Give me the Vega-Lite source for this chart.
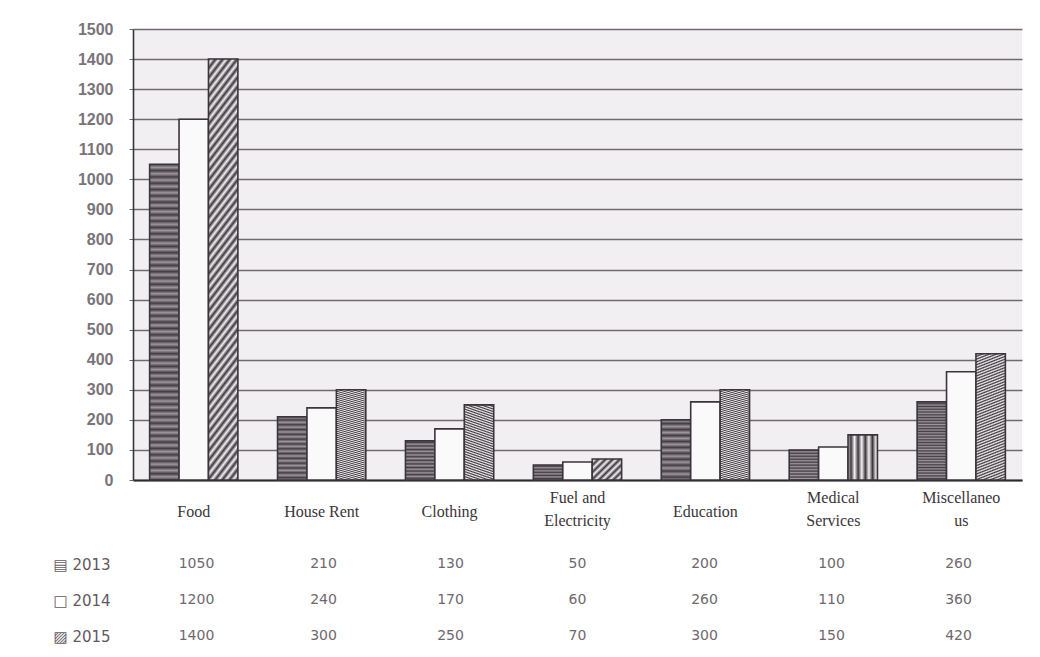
{
  "$schema": "https://vega.github.io/schema/vega-lite/v6.json",
  "background": "#ffffff",
  "padding": {"left": 10, "top": 21, "right": 18, "bottom": 2},
  "datasets": {
    "spend": [
      {"category": "Food", "year": "2013", "value": 1050},
      {"category": "Food", "year": "2014", "value": 1200},
      {"category": "Food", "year": "2015", "value": 1400},
      {"category": "House Rent", "year": "2013", "value": 210},
      {"category": "House Rent", "year": "2014", "value": 240},
      {"category": "House Rent", "year": "2015", "value": 300},
      {"category": "Clothing", "year": "2013", "value": 130},
      {"category": "Clothing", "year": "2014", "value": 170},
      {"category": "Clothing", "year": "2015", "value": 250},
      {"category": "Fuel and Electricity", "year": "2013", "value": 50},
      {"category": "Fuel and Electricity", "year": "2014", "value": 60},
      {"category": "Fuel and Electricity", "year": "2015", "value": 70},
      {"category": "Education", "year": "2013", "value": 200},
      {"category": "Education", "year": "2014", "value": 260},
      {"category": "Education", "year": "2015", "value": 300},
      {"category": "Medical Services", "year": "2013", "value": 100},
      {"category": "Medical Services", "year": "2014", "value": 110},
      {"category": "Medical Services", "year": "2015", "value": 150},
      {"category": "Miscellaneous", "year": "2013", "value": 260},
      {"category": "Miscellaneous", "year": "2014", "value": 360},
      {"category": "Miscellaneous", "year": "2015", "value": 420}
    ]
  },
  "spacing": 14,
  "vconcat": [
    {
      "width": 889,
      "height": 451,
      "data": {"name": "spend"},
      "view": {"fill": "#f2eff2", "stroke": null},
      "mark": {"type": "bar", "stroke": "#3a353a", "strokeWidth": 1.6},
      "encoding": {
        "x": {
          "field": "category",
          "type": "nominal",
          "sort": ["Food", "House Rent", "Clothing", "Fuel and Electricity", "Education", "Medical Services", "Miscellaneous"],
          "scale": {"paddingInner": 0.31, "paddingOuter": 0.13},
          "axis": {
            "title": null,
            "labelAngle": 0,
            "ticks": false,
            "domainColor": "#2f2a2f",
            "domainWidth": 2,
            "labelFont": "Liberation Serif",
            "labelFontSize": 16,
            "labelColor": "#3a353a",
            "labelPadding": {"condition": {"test": "datum.value == 'Fuel and Electricity' || datum.value == 'Medical Services' || datum.value == 'Miscellaneous'", "value": 17}, "value": 31},
            "labelBaseline": "middle",
            "labelLineHeight": 23,
            "labelLimit": 200,
            "minExtent": 52,
            "maxExtent": 52,
            "labelExpr": "datum.value == 'Fuel and Electricity' ? ['Fuel and', 'Electricity'] : datum.value == 'Medical Services' ? ['Medical', 'Services'] : datum.value == 'Miscellaneous' ? ['Miscellaneo', 'us'] : datum.value"
          }
        },
        "xOffset": {"field": "year", "type": "nominal", "sort": ["2013", "2014", "2015"], "scale": {"paddingInner": 0, "paddingOuter": 0}},
        "y": {
          "field": "value",
          "type": "quantitative",
          "scale": {"domain": [0, 1500], "nice": false},
          "axis": {
            "title": null,
            "format": "d",
            "values": [0, 100, 200, 300, 400, 500, 600, 700, 800, 900, 1000, 1100, 1200, 1300, 1400, 1500],
            "grid": true,
            "gridColor": "#6f6a6f",
            "gridWidth": 1.3,
            "gridOpacity": 1,
            "ticks": true,
            "tickSize": 4,
            "tickColor": "#6f6a6f",
            "domainColor": "#3a353a",
            "domainWidth": 1.6,
            "labelFont": "Liberation Sans",
            "labelFontWeight": "bold",
            "labelFontSize": 16,
            "labelColor": "#7a747a",
            "labelPadding": 16,
            "minExtent": 123,
            "maxExtent": 123
          }
        },
        "fill": {
          "condition": [
            {"test": "datum.year == '2013'", "value": {"gradient": "linear", "x1": 0, "y1": 0, "x2": 0, "y2": 1, "stops": [
              {"offset": 0, "color": "#433d43"}, {"offset": 0.01, "color": "#9d979d"}, {"offset": 0.02, "color": "#433d43"}, {"offset": 0.03, "color": "#9d979d"}, {"offset": 0.04, "color": "#433d43"}, {"offset": 0.05, "color": "#9d979d"}, {"offset": 0.06, "color": "#433d43"}, {"offset": 0.07, "color": "#9d979d"}, {"offset": 0.08, "color": "#433d43"}, {"offset": 0.09, "color": "#9d979d"},
              {"offset": 0.1, "color": "#433d43"}, {"offset": 0.11, "color": "#9d979d"}, {"offset": 0.12, "color": "#433d43"}, {"offset": 0.13, "color": "#9d979d"}, {"offset": 0.14, "color": "#433d43"}, {"offset": 0.15, "color": "#9d979d"}, {"offset": 0.16, "color": "#433d43"}, {"offset": 0.17, "color": "#9d979d"}, {"offset": 0.18, "color": "#433d43"}, {"offset": 0.19, "color": "#9d979d"},
              {"offset": 0.2, "color": "#433d43"}, {"offset": 0.21, "color": "#9d979d"}, {"offset": 0.22, "color": "#433d43"}, {"offset": 0.23, "color": "#9d979d"}, {"offset": 0.24, "color": "#433d43"}, {"offset": 0.25, "color": "#9d979d"}, {"offset": 0.26, "color": "#433d43"}, {"offset": 0.27, "color": "#9d979d"}, {"offset": 0.28, "color": "#433d43"}, {"offset": 0.29, "color": "#9d979d"},
              {"offset": 0.3, "color": "#433d43"}, {"offset": 0.31, "color": "#9d979d"}, {"offset": 0.32, "color": "#433d43"}, {"offset": 0.33, "color": "#9d979d"}, {"offset": 0.34, "color": "#433d43"}, {"offset": 0.35, "color": "#9d979d"}, {"offset": 0.36, "color": "#433d43"}, {"offset": 0.37, "color": "#9d979d"}, {"offset": 0.38, "color": "#433d43"}, {"offset": 0.39, "color": "#9d979d"},
              {"offset": 0.4, "color": "#433d43"}, {"offset": 0.41, "color": "#9d979d"}, {"offset": 0.42, "color": "#433d43"}, {"offset": 0.43, "color": "#9d979d"}, {"offset": 0.44, "color": "#433d43"}, {"offset": 0.45, "color": "#9d979d"}, {"offset": 0.46, "color": "#433d43"}, {"offset": 0.47, "color": "#9d979d"}, {"offset": 0.48, "color": "#433d43"}, {"offset": 0.49, "color": "#9d979d"},
              {"offset": 0.5, "color": "#433d43"}, {"offset": 0.51, "color": "#9d979d"}, {"offset": 0.52, "color": "#433d43"}, {"offset": 0.53, "color": "#9d979d"}, {"offset": 0.54, "color": "#433d43"}, {"offset": 0.55, "color": "#9d979d"}, {"offset": 0.56, "color": "#433d43"}, {"offset": 0.57, "color": "#9d979d"}, {"offset": 0.58, "color": "#433d43"}, {"offset": 0.59, "color": "#9d979d"},
              {"offset": 0.6, "color": "#433d43"}, {"offset": 0.61, "color": "#9d979d"}, {"offset": 0.62, "color": "#433d43"}, {"offset": 0.63, "color": "#9d979d"}, {"offset": 0.64, "color": "#433d43"}, {"offset": 0.65, "color": "#9d979d"}, {"offset": 0.66, "color": "#433d43"}, {"offset": 0.67, "color": "#9d979d"}, {"offset": 0.68, "color": "#433d43"}, {"offset": 0.69, "color": "#9d979d"},
              {"offset": 0.7, "color": "#433d43"}, {"offset": 0.71, "color": "#9d979d"}, {"offset": 0.72, "color": "#433d43"}, {"offset": 0.73, "color": "#9d979d"}, {"offset": 0.74, "color": "#433d43"}, {"offset": 0.75, "color": "#9d979d"}, {"offset": 0.76, "color": "#433d43"}, {"offset": 0.77, "color": "#9d979d"}, {"offset": 0.78, "color": "#433d43"}, {"offset": 0.79, "color": "#9d979d"},
              {"offset": 0.8, "color": "#433d43"}, {"offset": 0.81, "color": "#9d979d"}, {"offset": 0.82, "color": "#433d43"}, {"offset": 0.83, "color": "#9d979d"}, {"offset": 0.84, "color": "#433d43"}, {"offset": 0.85, "color": "#9d979d"}, {"offset": 0.86, "color": "#433d43"}, {"offset": 0.87, "color": "#9d979d"}, {"offset": 0.88, "color": "#433d43"}, {"offset": 0.89, "color": "#9d979d"},
              {"offset": 0.9, "color": "#433d43"}, {"offset": 0.91, "color": "#9d979d"}, {"offset": 0.92, "color": "#433d43"}, {"offset": 0.93, "color": "#9d979d"}, {"offset": 0.94, "color": "#433d43"}, {"offset": 0.95, "color": "#9d979d"}, {"offset": 0.96, "color": "#433d43"}, {"offset": 0.97, "color": "#9d979d"}, {"offset": 0.98, "color": "#433d43"}, {"offset": 0.99, "color": "#9d979d"},
              {"offset": 1, "color": "#433d43"}
            ]}},
            {"test": "datum.year == '2015'", "value": {"gradient": "linear", "x1": 0, "y1": 0, "x2": 0.1, "y2": 1.1, "stops": [
              {"offset": 0, "color": "#3c373c"}, {"offset": 0.01, "color": "#f4f2f4"}, {"offset": 0.02, "color": "#3c373c"}, {"offset": 0.03, "color": "#f4f2f4"}, {"offset": 0.04, "color": "#3c373c"}, {"offset": 0.05, "color": "#f4f2f4"}, {"offset": 0.06, "color": "#3c373c"}, {"offset": 0.07, "color": "#f4f2f4"}, {"offset": 0.08, "color": "#3c373c"}, {"offset": 0.09, "color": "#f4f2f4"},
              {"offset": 0.1, "color": "#3c373c"}, {"offset": 0.11, "color": "#f4f2f4"}, {"offset": 0.12, "color": "#3c373c"}, {"offset": 0.13, "color": "#f4f2f4"}, {"offset": 0.14, "color": "#3c373c"}, {"offset": 0.15, "color": "#f4f2f4"}, {"offset": 0.16, "color": "#3c373c"}, {"offset": 0.17, "color": "#f4f2f4"}, {"offset": 0.18, "color": "#3c373c"}, {"offset": 0.19, "color": "#f4f2f4"},
              {"offset": 0.2, "color": "#3c373c"}, {"offset": 0.21, "color": "#f4f2f4"}, {"offset": 0.22, "color": "#3c373c"}, {"offset": 0.23, "color": "#f4f2f4"}, {"offset": 0.24, "color": "#3c373c"}, {"offset": 0.25, "color": "#f4f2f4"}, {"offset": 0.26, "color": "#3c373c"}, {"offset": 0.27, "color": "#f4f2f4"}, {"offset": 0.28, "color": "#3c373c"}, {"offset": 0.29, "color": "#f4f2f4"},
              {"offset": 0.3, "color": "#3c373c"}, {"offset": 0.31, "color": "#f4f2f4"}, {"offset": 0.32, "color": "#3c373c"}, {"offset": 0.33, "color": "#f4f2f4"}, {"offset": 0.34, "color": "#3c373c"}, {"offset": 0.35, "color": "#f4f2f4"}, {"offset": 0.36, "color": "#3c373c"}, {"offset": 0.37, "color": "#f4f2f4"}, {"offset": 0.38, "color": "#3c373c"}, {"offset": 0.39, "color": "#f4f2f4"},
              {"offset": 0.4, "color": "#3c373c"}, {"offset": 0.41, "color": "#f4f2f4"}, {"offset": 0.42, "color": "#3c373c"}, {"offset": 0.43, "color": "#f4f2f4"}, {"offset": 0.44, "color": "#3c373c"}, {"offset": 0.45, "color": "#f4f2f4"}, {"offset": 0.46, "color": "#3c373c"}, {"offset": 0.47, "color": "#f4f2f4"}, {"offset": 0.48, "color": "#3c373c"}, {"offset": 0.49, "color": "#f4f2f4"},
              {"offset": 0.5, "color": "#3c373c"}, {"offset": 0.51, "color": "#f4f2f4"}, {"offset": 0.52, "color": "#3c373c"}, {"offset": 0.53, "color": "#f4f2f4"}, {"offset": 0.54, "color": "#3c373c"}, {"offset": 0.55, "color": "#f4f2f4"}, {"offset": 0.56, "color": "#3c373c"}, {"offset": 0.57, "color": "#f4f2f4"}, {"offset": 0.58, "color": "#3c373c"}, {"offset": 0.59, "color": "#f4f2f4"},
              {"offset": 0.6, "color": "#3c373c"}, {"offset": 0.61, "color": "#f4f2f4"}, {"offset": 0.62, "color": "#3c373c"}, {"offset": 0.63, "color": "#f4f2f4"}, {"offset": 0.64, "color": "#3c373c"}, {"offset": 0.65, "color": "#f4f2f4"}, {"offset": 0.66, "color": "#3c373c"}, {"offset": 0.67, "color": "#f4f2f4"}, {"offset": 0.68, "color": "#3c373c"}, {"offset": 0.69, "color": "#f4f2f4"},
              {"offset": 0.7, "color": "#3c373c"}, {"offset": 0.71, "color": "#f4f2f4"}, {"offset": 0.72, "color": "#3c373c"}, {"offset": 0.73, "color": "#f4f2f4"}, {"offset": 0.74, "color": "#3c373c"}, {"offset": 0.75, "color": "#f4f2f4"}, {"offset": 0.76, "color": "#3c373c"}, {"offset": 0.77, "color": "#f4f2f4"}, {"offset": 0.78, "color": "#3c373c"}, {"offset": 0.79, "color": "#f4f2f4"},
              {"offset": 0.8, "color": "#3c373c"}, {"offset": 0.81, "color": "#f4f2f4"}, {"offset": 0.82, "color": "#3c373c"}, {"offset": 0.83, "color": "#f4f2f4"}, {"offset": 0.84, "color": "#3c373c"}, {"offset": 0.85, "color": "#f4f2f4"}, {"offset": 0.86, "color": "#3c373c"}, {"offset": 0.87, "color": "#f4f2f4"}, {"offset": 0.88, "color": "#3c373c"}, {"offset": 0.89, "color": "#f4f2f4"},
              {"offset": 0.9, "color": "#3c373c"}, {"offset": 0.91, "color": "#f4f2f4"}, {"offset": 0.92, "color": "#3c373c"}, {"offset": 0.93, "color": "#f4f2f4"}, {"offset": 0.94, "color": "#3c373c"}, {"offset": 0.95, "color": "#f4f2f4"}, {"offset": 0.96, "color": "#3c373c"}, {"offset": 0.97, "color": "#f4f2f4"}, {"offset": 0.98, "color": "#3c373c"}, {"offset": 0.99, "color": "#f4f2f4"},
              {"offset": 1, "color": "#3c373c"}
            ]}}
          ],
          "value": "#fbfafb"
        }
      }
    },
    {
      "width": 889,
      "height": 108,
      "data": {"name": "spend"},
      "view": {"stroke": null},
      "mark": {"type": "text", "font": "DejaVu Sans", "fontSize": 14, "color": "#6e686e"},
      "encoding": {
        "x": {
          "field": "category",
          "type": "nominal",
          "sort": ["Food", "House Rent", "Clothing", "Fuel and Electricity", "Education", "Medical Services", "Miscellaneous"],
          "scale": {"paddingInner": 0.31, "paddingOuter": 0.13},
          "axis": null
        },
        "y": {
          "field": "year",
          "type": "nominal",
          "sort": ["2013", "2014", "2015"],
          "axis": {
            "title": null,
            "ticks": false,
            "domain": false,
            "labelFont": "DejaVu Sans",
            "labelFontSize": 15,
            "labelColor": "#5f595f",
            "labelAlign": "left",
            "labelPadding": 80,
            "minExtent": 123,
            "maxExtent": 123,
            "labelExpr": "datum.value == '2013' ? '▤ 2013' : datum.value == '2014' ? '□ 2014' : '▨ 2015'"
          }
        },
        "text": {"field": "value", "type": "quantitative"}
      }
    }
  ]
}
